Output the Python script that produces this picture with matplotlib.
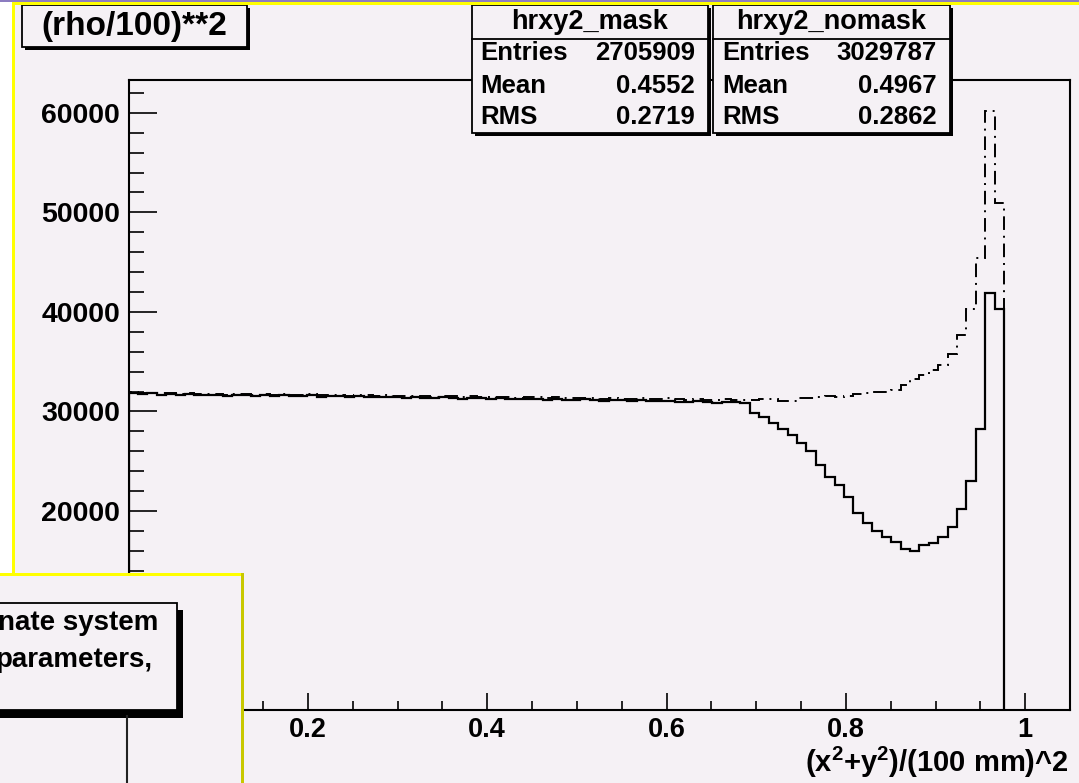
import numpy as np
import matplotlib
matplotlib.use("Agg")
import matplotlib.pyplot as plt
from matplotlib.patches import Rectangle
from matplotlib.ticker import MultipleLocator

W, H = 1079, 783
BG = "#f5f1f5"

plt.rcParams["font.family"] = "Liberation Sans"
plt.rcParams["font.weight"] = "bold"
plt.rcParams["mathtext.fontset"] = "custom"
plt.rcParams["mathtext.rm"] = "Liberation Sans:bold"
plt.rcParams["mathtext.default"] = "rm"

# histogram definition: 100 bins over [0, 1.05], only the first 93 are filled
X_MIN, X_MAX, N_BINS = 0.0, 1.05, 100

mask_counts = [
    31850, 31780, 31820, 31700, 31760, 31680, 31740, 31620, 31700, 31660,
    31580, 31640, 31700, 31560, 31620, 31540, 31600, 31520, 31580, 31620,
    31480, 31560, 31500, 31440, 31520, 31460, 31400, 31480, 31420, 31360,
    31440, 31380, 31320, 31400, 31340, 31280, 31360, 31300, 31240, 31320,
    31260, 31200, 31280, 31220, 31160, 31240, 31180, 31120, 31200, 31140,
    31080, 31160, 31100, 31040, 31120, 31060, 31000, 31080, 30980, 30920,
    31000, 30940, 30880, 30960, 30900, 30860,
    29820, 29410, 28810, 28210, 27610, 26800, 26030, 24590, 23390, 22580,
    21380, 19770, 18760, 17960, 17360, 16850, 16150, 15950, 16580, 16750,
    17360, 18420, 20170, 22980, 28210, 41880, 40270,
]

nomask_counts = [
    31950, 31900, 31880, 31820, 31900, 31760, 31850, 31740, 31800, 31780,
    31700, 31760, 31780, 31680, 31740, 31660, 31720, 31640, 31700, 31720,
    31620, 31680, 31620, 31580, 31640, 31600, 31540, 31600, 31560, 31500,
    31580, 31520, 31480, 31540, 31500, 31440, 31520, 31460, 31400, 31480,
    31420, 31380, 31440, 31400, 31340, 31420, 31360, 31300, 31380, 31320,
    31260, 31340, 31280, 31240, 31320, 31260, 31220, 31300, 31200, 31160,
    31240, 31180, 31120, 31200, 31160, 31140,
    31180, 31220, 31200, 31000, 31050, 31300, 31350, 31480, 31500, 31460,
    31520, 31750, 31850, 31950, 32000, 32200, 32660, 33300, 33700, 34200,
    34700, 35800, 37690, 40270, 45400, 60230, 50920,
]

# labels for 0 / 10000 are hidden behind the overlapping window in the screenshot
x_ticks = [0, 0.2, 0.4, 0.6, 0.8, 1.0]
x_tick_labels = ["", "0.2", "0.4", "0.6", "0.8", "1"]
y_ticks = [0, 10000, 20000, 30000, 40000, 50000, 60000]
y_tick_labels = ["", "", "20000", "30000", "40000", "50000", "60000"]
Y_MAX = 63300

title = "(rho/100)**2"
x_label = r"(x$^{2}$+y$^{2}$)/(100 mm)^2"
stat_names = ["Entries", "Mean", "RMS"]
mask_name, mask_stats = "hrxy2_mask", ["2705909", "0.4552", "0.2719"]
nomask_name, nomask_stats = "hrxy2_nomask", ["3029787", "0.4967", "0.2862"]
pave_lines = ["nate system", "parameters,"]


def px_rect(l, t, r, b):
    return [l / W, 1 - b / H, (r - l) / W, (b - t) / H]


fig = plt.figure(figsize=(W / 100, H / 100), dpi=100, facecolor=BG)

# main histogram frame
ax = fig.add_axes(px_rect(128.5, 80, 1070, 710))
ax.set_facecolor(BG)
edges = np.linspace(X_MIN, X_MAX, N_BINS + 1)[: len(mask_counts) + 1]
ax.stairs(mask_counts, edges, baseline=0, color="black", lw=1.6)
ax.stairs(nomask_counts, edges, baseline=0, color="black", lw=1.4,
          linestyle=(0, (7, 3, 1, 3)))
ax.set_xlim(X_MIN, X_MAX)
ax.set_ylim(0, Y_MAX)
ax.set_xticks(x_ticks)
ax.set_xticklabels(x_tick_labels, fontsize=19.5, fontweight="bold")
ax.set_yticks(y_ticks)
ax.set_yticklabels(y_tick_labels, fontsize=20.5, fontweight="bold")
ax.xaxis.set_minor_locator(MultipleLocator(0.05))
ax.yaxis.set_minor_locator(MultipleLocator(2000))
ax.tick_params(axis="x", which="major", direction="in", length=12, width=1.2, pad=5)
ax.tick_params(axis="x", which="minor", direction="in", length=6.5, width=1.2)
ax.tick_params(axis="y", which="major", direction="in", length=20, width=1.2, pad=6)
ax.tick_params(axis="y", which="minor", direction="in", length=10.5, width=1.2)
for sp in ax.spines.values():
    sp.set_linewidth(1.5)

# overlay in pixel coordinates for the ROOT canvas decorations
ov = fig.add_axes([0, 0, 1, 1], zorder=10)
ov.set_xlim(0, W)
ov.set_ylim(H, 0)
ov.axis("off")
ov.patch.set_alpha(0)


def box(l, t, r, b, shadow=3):
    ov.add_patch(Rectangle((l + shadow, t + shadow), r - l, b - t,
                           facecolor="black", edgecolor="none"))
    ov.add_patch(Rectangle((l, t), r - l, b - t, facecolor=BG,
                           edgecolor="black", lw=1.3))


# title pave
box(22, 5, 247, 47)
ov.text(134, 27, title, ha="center", va="center", fontsize=24, fontweight="bold")

# stats boxes
for (l, r), name, vals in [((471.5, 708), mask_name, mask_stats),
                           ((713, 950), nomask_name, nomask_stats)]:
    box(l, 5, r, 133)
    ov.plot([l, r], [39, 39], color="black", lw=1.3)
    ov.text((l + r) / 2, 22, name, ha="center", va="center", fontsize=19.5,
            fontweight="bold")
    for yy, nm, v in zip([53, 86, 117], stat_names, vals):
        ov.text(l + 9, yy, nm, ha="left", va="center", fontsize=18.5,
                fontweight="bold")
        ov.text(r - 13, yy, v, ha="right", va="center", fontsize=18.5,
                fontweight="bold")

# canvas border
ov.add_patch(Rectangle((0, 0), W, 1.6, facecolor="#8c7cc0", edgecolor="none"))
ov.add_patch(Rectangle((0, 1.6), 12, 572, facecolor="white", edgecolor="none"))
ov.add_patch(Rectangle((12, 1.6), W - 12, 3, facecolor="#ffff00", edgecolor="none"))
ov.add_patch(Rectangle((12, 1.6), 3, 572, facecolor="#ffff00", edgecolor="none"))

# x axis title
ov.text(1069, 762, x_label, ha="right", va="center", fontsize=21,
        fontweight="bold")

# overlapping window in the lower left corner
ov.add_patch(Rectangle((0, 573), 243, 210, facecolor=BG, edgecolor="none"))
ov.add_patch(Rectangle((0, 573), 243, 3, facecolor="#ffff00", edgecolor="none"))
ov.add_patch(Rectangle((240.5, 573), 3, 210, facecolor="#c8c800", edgecolor="none"))
ov.plot([127, 127], [716, 783], color="#222222", lw=1.5)
ov.add_patch(Rectangle((-4, 610), 187, 108, facecolor="black", edgecolor="none"))
ov.add_patch(Rectangle((-10, 603), 187, 107, facecolor=BG, edgecolor="black", lw=1.3))
ov.text(158, 623, pave_lines[0], ha="right", va="center", fontsize=20,
        fontweight="bold")
ov.text(152, 660, pave_lines[1], ha="right", va="center", fontsize=20,
        fontweight="bold")

fig.savefig("out.png", dpi=100, facecolor=BG)
